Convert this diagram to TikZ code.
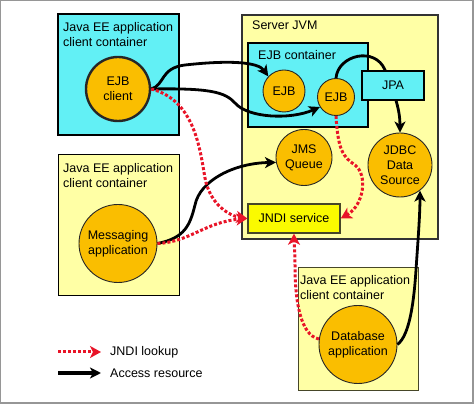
\documentclass[tikz,border=0pt]{standalone}
\usepackage{fontspec}
\setmainfont{Liberation Sans}
\usetikzlibrary{arrows.meta}
\definecolor{cyanbox}{RGB}{98,240,245}
\definecolor{lyellow}{RGB}{255,255,165}
\definecolor{orangec}{RGB}{250,190,0}
\definecolor{jndiyel}{RGB}{250,250,0}
\definecolor{framegray}{RGB}{150,150,150}
\definecolor{lookred}{RGB}{232,20,40}
\definecolor{olive}{RGB}{70,70,40}
\tikzset{
  every node/.style={font=\fontsize{12.5}{15}\selectfont},
  cbox/.style={draw=black, line width=2pt, fill=cyanbox},
  ybox/.style={draw=black, line width=1pt, fill=lyellow},
  circ/.style={circle, draw=black!85, line width=0.9pt, fill=orangec, align=center, inner sep=0pt},
  lbl/.style={anchor=north west, align=left, inner sep=0pt},
  access/.style={draw=black, line width=2.8pt, -{Stealth[length=11pt,width=11pt,inset=3pt]}},
  lookup/.style={draw=lookred, line width=3pt, dash pattern=on 3pt off 2pt, -{Stealth[length=11pt,width=12pt,inset=3pt]}},
}
\begin{document}
\begin{tikzpicture}[x=1pt,y=-1pt]
\useasboundingbox (0,0) rectangle (475,406);
\draw[framegray, line width=1.2pt] (0.6,0.6) rectangle (473,403);

% containers
\path[cbox] (58,14) rectangle (179,135);
\node[lbl] (c1lbl) at (63,22) {Java EE application\\client container};
\path[ybox] (58,155) rectangle (179,296);
\node[lbl] (c2lbl) at (63,163) {Java EE application\\client container};
\path[draw=black!80, line width=1.2pt, fill=lyellow] (242,15) rectangle (438,239);
\node[lbl] (jvmlbl) at (252,21) {Server JVM};
\path[cbox] (248,43) rectangle (368,127);
\node[lbl] (ejbclbl) at (258,50) {EJB container};
\path[ybox, draw=olive] (298,268) rectangle (418,391);
\node[lbl] (c3lbl) at (300,275) {Java EE application\\client container};

% nodes
\node[circ, line width=2.4pt, minimum size=64pt] (ejbc) at (118,89) {EJB\\client};
\node[circ, minimum size=78pt] (msg) at (118,243.5) {Messaging\\application};
\node[circ, minimum size=42pt] (ejb1) at (284,91) {EJB};
\node[circ, minimum size=37pt] (ejb2) at (336,97) {EJB};
\node[circ, minimum size=56pt] (jms) at (304,157.5) {JMS\\Queue};
\node[circ, minimum size=64pt] (jdbc) at (400,165) {JDBC\\Data\\Source};
\node[draw=olive, line width=1.4pt, fill=jndiyel, minimum width=92pt, minimum height=29pt, inner sep=0pt] (jndi) at (294,218.5) {JNDI service};
\node[circ, minimum size=78pt] (db) at (358,344.5) {Database\\application};

% access resource arrows
\draw[access] (ejbc.east) .. controls (165,85) and (160,68) .. (185,65) .. controls (230,60) and (258,62) .. (ejb1.137);
\draw[access] (ejbc.east) .. controls (210,88) and (225,92) .. (235,103) .. controls (248,118) and (290,120) .. (ejb2.212);
\draw[access] (ejb2.north) .. controls (338,55) and (375,46) .. (385,70) .. controls (395,95) and (400,110) .. (jdbc.north);
\draw[access] (msg.east) .. controls (185,238) and (190,225) .. (195,205) .. controls (200,180) and (235,163) .. (jms.190);
\draw[access] (db.east) .. controls (410,335) and (414,300) .. (416,270) .. controls (418,240) and (420,215) .. (jdbc.-52);

% JPA box drawn over the access arrow
\node[draw=black, line width=1.4pt, fill=cyanbox, minimum width=62pt, minimum height=29pt, inner sep=0pt] (jpa) at (393,85.5) {JPA};

% JNDI lookups
\draw[lookup] (ejbc.east) .. controls (195,100) and (200,150) .. (205,178) .. controls (210,205) and (230,216) .. (jndi.west);
\draw[lookup] (msg.east) .. controls (190,242) and (205,222) .. (jndi.west);
\draw[lookup] (ejb2.south) .. controls (338,150) and (343,157) .. (355,165) .. controls (368,175) and (364,205) .. (jndi.east);
\draw[lookup] (db.172) .. controls (300,335) and (295,300) .. (295,265) .. controls (295,250) and (294,242) .. (jndi.south);

% legend
\coordinate (l1a) at (58,352);
\coordinate (l1b) at (101,352);
\coordinate (l2a) at (58,373);
\coordinate (l2b) at (101,373);
\draw[lookup] (l1a) -- (l1b);
\draw[access, line width=3.4pt] (l2a) -- (l2b);
\node[anchor=west, inner sep=0pt] (leg1) at (110,352) {JNDI lookup};
\node[anchor=west, inner sep=0pt] (leg2) at (110,373) {Access resource};
\end{tikzpicture}
\end{document}
